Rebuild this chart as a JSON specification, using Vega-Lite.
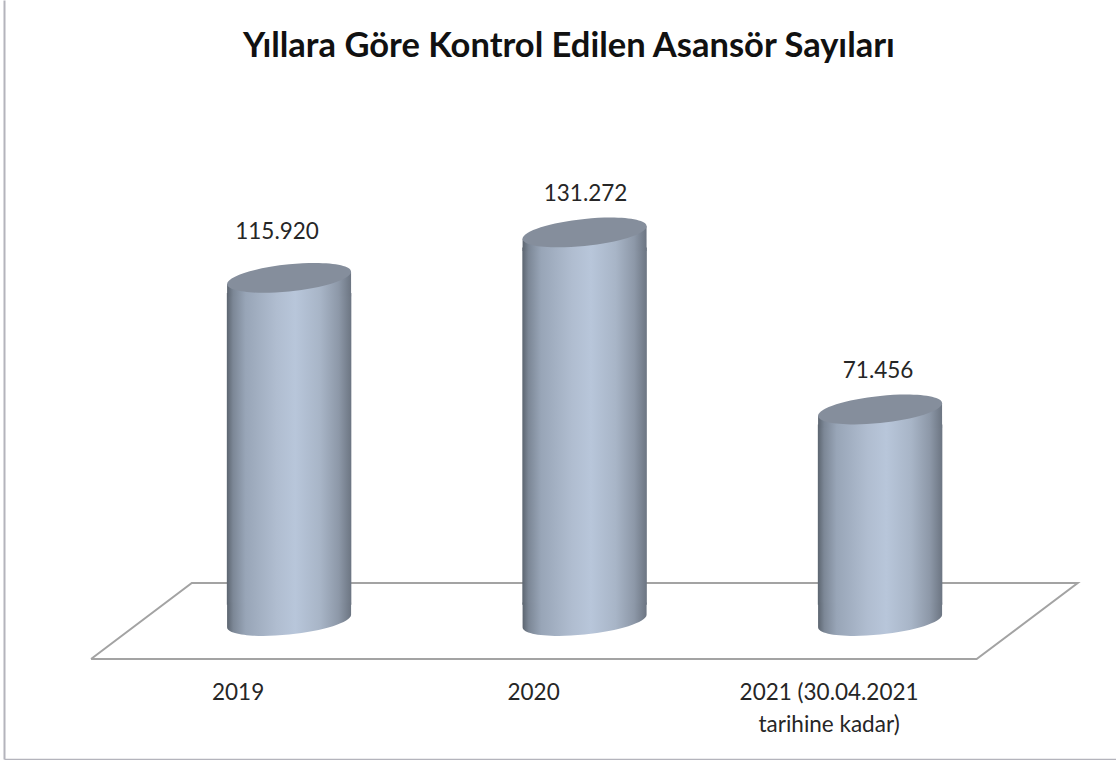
{
"$schema":"https://vega.github.io/schema/vega-lite/v6.json",
"width":1112,"height":759,"padding":{"left":4,"top":0,"right":0,"bottom":1},"autosize":{"type":"none"},
"background":"white",
"title":{"text":"Yıllara Göre Kontrol Edilen Asansör Sayıları","font":"Lato","fontSize":34.5,"fontWeight":"bold","color":"#111111","anchor":"middle","dx":9,"offset":-64.5},
"config":{"view":{"stroke":null},
"axisY":{"domain":true,"domainColor":"#b4b4bc","domainWidth":2,"labels":false,"ticks":false,"grid":false},
"axisX":{"domain":true,"domainColor":"#b4b4bc","domainWidth":1.5,"ticks":false,"grid":false}},
"datasets":{
"asansor":[{"yil":"2019","deger":115920,"etiket":"115.920"},{"yil":"2020","deger":131272,"etiket":"131.272"},{"yil":"2021 (30.04.2021 tarihine kadar)","deger":71456,"etiket":"71.456"}],
"zemin":[{"s":0,"u":-0.67,"v":-12838},{"s":1,"u":-0.329,"v":12838},{"s":2,"u":2.669,"v":12838},{"s":3,"u":2.327,"v":-12838},{"s":4,"u":-0.67,"v":-12838}]
},
"layer":[
{"data":{"name":"zemin"},"mark":{"type":"line","color":"#a3a3a3","strokeWidth":2,"strokeJoin":"miter"},
"encoding":{"x":{"field":"u","type":"quantitative","scale":{"domain":[-0.9645,2.7986],"nice":false,"zero":false},"axis":null},
"y":{"field":"v","type":"quantitative","scale":{"domain":[-46622,209797],"nice":false,"zero":false},"title":null},"order":{"field":"s"}}},
{"data":{"name":"asansor"},"layer":[
{"mark":{"type":"bar","yOffset":15,"fill":{"gradient":"linear","x1":0,"y1":0,"x2":1,"y2":0,"stops":[{"offset":0,"color":"#5c6570"},{"offset":0.05,"color":"#7c8796"},{"offset":0.15,"color":"#98a5b7"},{"offset":0.4,"color":"#b0bdd0"},{"offset":0.55,"color":"#b8c6da"},{"offset":0.75,"color":"#a8b5c7"},{"offset":0.9,"color":"#8d98a8"},{"offset":1,"color":"#6c7582"}]}},
"encoding":{"x":{"field":"yil","type":"nominal","sort":null,"title":null,"scale":{"paddingInner":0.5787,"paddingOuter":0.6709,"align":0.562,"round":false},
"axis":{"labelFont":"Lato","labelFontSize":22.5,"labelColor":"#262626","labelAngle":0,"labelPadding":-78,"labelOffset":-51,"labelLineHeight":32,"labelOverlap":false,"labelBound":false,"labelFlush":false,"labelLimit":400,
"labelExpr":"indexof(datum.label,'(')>0 ? ['2021 (30.04.2021','tarihine kadar)'] : datum.label"}},
"y":{"field":"deger","type":"quantitative","stack":null,"title":null},"y2":{"datum":5500}}},
{"mark":{"type":"point","filled":true,"opacity":1,"size":15376,"strokeWidth":0,"shape":"M-1,0.1 L1,-0.1 L1,0.3 L-1,0.3 Z","fill":{"gradient":"linear","x1":0,"y1":0,"x2":1,"y2":0,"stops":[{"offset":0,"color":"#5c6570"},{"offset":0.05,"color":"#7c8796"},{"offset":0.15,"color":"#98a5b7"},{"offset":0.4,"color":"#b0bdd0"},{"offset":0.55,"color":"#b8c6da"},{"offset":0.75,"color":"#a8b5c7"},{"offset":0.9,"color":"#8d98a8"},{"offset":1,"color":"#6c7582"}]}},
"encoding":{"x":{"field":"yil","type":"nominal","sort":null,"title":null},"y":{"field":"deger","type":"quantitative","title":null}}},
{"transform":[{"calculate":"0","as":"taban"}],"mark":{"type":"point","filled":true,"opacity":1,"size":15376,"strokeWidth":0,"shape":"M-1,-0.3 L1,-0.3 L1,-0.1 A1.005,0.217 -6 1 1 -1,0.1 Z","fill":{"gradient":"linear","x1":0,"y1":0,"x2":1,"y2":0,"stops":[{"offset":0,"color":"#5c6570"},{"offset":0.05,"color":"#7c8796"},{"offset":0.15,"color":"#98a5b7"},{"offset":0.4,"color":"#b0bdd0"},{"offset":0.55,"color":"#b8c6da"},{"offset":0.75,"color":"#a8b5c7"},{"offset":0.9,"color":"#8d98a8"},{"offset":1,"color":"#6c7582"}]}},
"encoding":{"x":{"field":"yil","type":"nominal","sort":null,"title":null},"y":{"field":"taban","type":"quantitative","title":null}}},
{"mark":{"type":"point","filled":true,"opacity":1,"size":15376,"strokeWidth":0,"shape":"M-1,0.1 A1.005,0.217 -6 1 1 1,-0.1 A1.005,0.217 -6 1 1 -1,0.1 Z","fill":"#858e9c"},
"encoding":{"x":{"field":"yil","type":"nominal","sort":null,"title":null},"y":{"field":"deger","type":"quantitative","title":null}}},
{"transform":[{"filter":"datum.deger==115920"}],"mark":{"type":"text","font":"Lato","fontSize":22.5,"color":"#262626","dx":-12,"dy":-46},
"encoding":{"x":{"field":"yil","type":"nominal","sort":null,"title":null},"y":{"field":"deger","type":"quantitative","title":null},"text":{"field":"etiket"}}},
{"transform":[{"filter":"datum.deger==131272"}],"mark":{"type":"text","font":"Lato","fontSize":22.5,"color":"#262626","dx":1,"dy":-38},
"encoding":{"x":{"field":"yil","type":"nominal","sort":null,"title":null},"y":{"field":"deger","type":"quantitative","title":null},"text":{"field":"etiket"}}},
{"transform":[{"filter":"datum.deger==71456"}],"mark":{"type":"text","font":"Lato","fontSize":22.5,"color":"#262626","dx":-2,"dy":-38},
"encoding":{"x":{"field":"yil","type":"nominal","sort":null,"title":null},"y":{"field":"deger","type":"quantitative","title":null},"text":{"field":"etiket"}}}
]}
],
"resolve":{"scale":{"x":"independent"}}
}
